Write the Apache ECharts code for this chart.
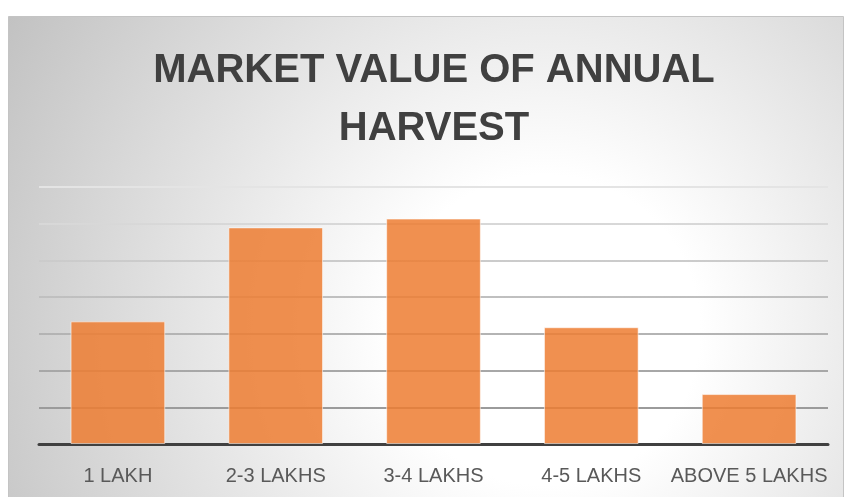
<!DOCTYPE html>
<html>
<head>
<meta charset="utf-8">
<script src="https://cdn.jsdelivr.net/npm/echarts@6/dist/echarts.min.js"></script>
<style>
  html, body { margin: 0; padding: 0; background: #fff; }
  #chart { width: 845px; height: 497px; }
</style>
</head>
<body>
<div id="chart"></div>
<script>
// data
const categories = ["1 LAKH", "2-3 LAKHS", "3-4 LAKHS", "4-5 LAKHS", "ABOVE 5 LAKHS"];
const values = [16.7, 29.5, 30.7, 15.9, 6.8];
const titleText = "MARKET VALUE OF ANNUAL\nHARVEST";

const el = document.getElementById("chart");
const chart = echarts.init(el, null, { renderer: "canvas" });

// frame with radial fill, white in the middle, grey to the edges
const frameFill = {
  type: "radial",
  x: 545, y: 330, r: 620,
  global: true,
  colorStops: [
    { offset: 0, color: "#ffffff" },
    { offset: 0.25, color: "#ffffff" },
    { offset: 1, color: "#c2c2c2" }
  ]
};

// grid lines darken towards the bottom
const gridLineColor = {
  type: "linear",
  x: 0, y: 187, x2: 0, y2: 444,
  global: true,
  colorStops: [
    { offset: 0, color: "#e4e4e4" },
    { offset: 1, color: "#8f8f8f" }
  ]
};

const option = {
  animation: false,
  backgroundColor: "#ffffff",
  graphic: [
    {
      type: "rect",
      z: -10,
      shape: { x: 8.5, y: 16.5, width: 835, height: 490 },
      style: { fill: frameFill, stroke: "#c4c4c4", lineWidth: 1 }
    }
  ],
  title: {
    text: titleText,
    left: 434,
    textAlign: "center",
    top: 42,
    padding: 0,
    textStyle: {
      fontFamily: "Liberation Sans",
      fontWeight: "bold",
      fontSize: 40,
      lineHeight: 58,
      color: "#404040"
    }
  },
  grid: {
    left: 39,
    right: 17,
    top: 187,
    bottom: 53,
    containLabel: false
  },
  xAxis: {
    type: "category",
    data: categories,
    axisTick: { show: false },
    axisLine: { lineStyle: { color: "#404040", width: 3 } },
    axisLabel: {
      interval: 0,
      margin: 22,
      fontFamily: "Liberation Sans",
      fontSize: 20,
      color: "#595959"
    }
  },
  yAxis: {
    type: "value",
    min: 0,
    max: 35,
    interval: 5,
    axisLabel: { show: false },
    axisLine: { show: false },
    axisTick: { show: false },
    splitLine: { lineStyle: { color: gridLineColor, width: 2 } }
  },
  series: [
    {
      type: "bar",
      data: values,
      barCategoryGap: "40%",
      itemStyle: {
        color: "rgba(237,125,49,0.85)",
        borderColor: "rgba(255,255,255,0.55)",
        borderWidth: 1
      }
    }
  ]
};

chart.setOption(option);
window.addEventListener("resize", () => chart.resize());
</script>
</body>
</html>
